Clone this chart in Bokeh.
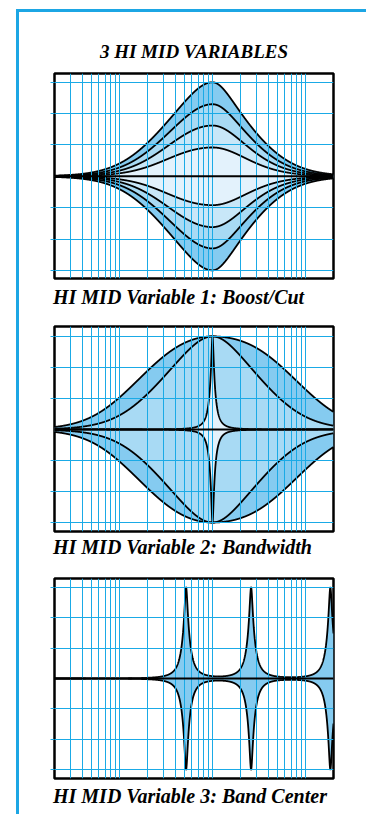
import numpy as np
from bokeh.plotting import figure
from bokeh.models import Range1d, FixedTicker, Span, Title, Div, Spacer
from bokeh.layouts import column, row
from bokeh.embed import file_html
from bokeh.resources import INLINE

# ---------------- data ----------------
freq_min, freq_max = 20, 20000
grid_freqs = [30, 40, 50, 60, 70, 80, 90, 100,
              200, 300, 400, 500, 600, 700, 800, 900, 1000,
              2000, 3000, 4000, 5000, 6000, 7000, 8000, 9000, 10000]
db_ticks = [-15, -10, -5, 5, 10, 15]

title_text = "3 HI MID VARIABLES"
captions = ["HI MID Variable 1: Boost/Cut",
            "HI MID Variable 2: Bandwidth",
            "HI MID Variable 3: Band Center"]

# Panel 1: boost / cut (same centre, same width, four gains)
boost_center = 1000
boost_gains = [15.0, 11.5, 8.1, 4.6]
boost_q_low = 0.30
boost_q_high = 0.42

# Panel 2: bandwidth (same centre, same gain, three widths)
bw_center = 1000
bw_gain = 15.0
bw_q_low = [0.15, 0.28, 9.0]
bw_q_high = [0.12, 0.30, 9.0]

# Panel 3: band centre (three narrow bands)
bc_centers = [520, 2600, 18500]
bc_gain = 15.0
bc_q = 6.5

# ---------------- styles ----------------
GRID = "#1AAAE6"
BORDER = "#1CA6E4"
FILLS = ["#85CBF0", "#A8DAF4", "#C8E7F8", "#E3F2FC"]
FONT = "Liberation Serif"
FIG_W = 347

freqs = np.logspace(np.log10(freq_min), np.log10(freq_max), 4001)
freqs = np.unique(np.concatenate([freqs, [boost_center, bw_center], bc_centers]))
zeros = np.zeros_like(freqs)


def peak_db(f, fc, gain, q_lo, q_hi):
    t = np.log(f / fc)
    q = np.where(t < 0, q_lo, q_hi)
    s = 4.0 * np.sinh(t) ** 2
    a2 = 10 ** (gain / 20.0)
    return 10 * np.log10((s + a2 / q ** 2) / (s + 1.0 / (a2 * q ** 2)))


def make_panel(height, top, frame_h, y0, y1):
    p = figure(width=FIG_W, height=height, x_axis_type="log",
               x_range=Range1d(freq_min, freq_max), y_range=Range1d(y0, y1),
               output_backend="svg", toolbar_location=None, title_location=None,
               min_border_left=35, min_border_right=33,
               min_border_top=top, min_border_bottom=height - top - frame_h)
    p.background_fill_color = "white"
    p.border_fill_color = "white"
    p.outline_line_color = "black"
    p.outline_line_width = 2.5
    p.outline_line_alpha = 1.0
    p.xaxis.visible = False
    ax = p.yaxis[0]
    ax.ticker = FixedTicker(ticks=db_ticks)
    ax.major_tick_out = 4
    ax.major_tick_in = 0
    ax.minor_tick_out = 0
    ax.minor_tick_in = 0
    ax.axis_line_color = None
    ax.major_tick_line_color = GRID
    ax.major_label_text_font_size = "1px"
    ax.major_label_text_color = None
    ax.major_label_standoff = 0
    p.xgrid.ticker = FixedTicker(ticks=grid_freqs)
    p.ygrid.ticker = FixedTicker(ticks=db_ticks)
    p.grid.grid_line_color = GRID
    p.grid.grid_line_width = 1
    p.grid.level = "glyph"
    return p


def add_zero(p):
    p.add_layout(Span(location=0, dimension="width", line_color="black", line_width=2))


def add_caption(p, text, standoff):
    p.add_layout(Title(text=text, align="left", offset=-1.5, vertical_align="top",
                       standoff=standoff, text_font=FONT, text_font_style="bold italic",
                       text_font_size="20px", text_color="black"), "below")


# ---------- Panel 1 ----------
p1 = make_panel(306, 61, 205, -16.3, 16.4)
curves1 = [peak_db(freqs, boost_center, g, boost_q_low, boost_q_high) for g in boost_gains]
for sign in (1, -1):
    for c, col in zip(curves1, FILLS):
        r = p1.varea(x=freqs, y1=zeros, y2=sign * c, fill_color=col, fill_alpha=1)
        r.level = "underlay"
for sign in (1, -1):
    for c in curves1:
        p1.line(freqs, sign * c, line_color="black", line_width=1.8)
add_zero(p1)
p1.add_layout(Title(text=title_text, align="center", vertical_align="bottom", standoff=24,
                    text_font=FONT, text_font_style="bold italic", text_font_size="19px",
                    text_color="black"), "above")
add_caption(p1, captions[0], 14)

# ---------- Panel 2 ----------
p2 = make_panel(253, 8, 205, -16.45, 16.6)
curves2 = [peak_db(freqs, bw_center, bw_gain, ql, qh) for ql, qh in zip(bw_q_low, bw_q_high)]
fills2 = [FILLS[0], FILLS[1], FILLS[3]]
for sign in (1, -1):
    for c, col in zip(curves2, fills2):
        r = p2.varea(x=freqs, y1=zeros, y2=sign * c, fill_color=col, fill_alpha=1)
        r.level = "underlay"
for sign in (1, -1):
    for c in curves2:
        p2.line(freqs, sign * c, line_color="black", line_width=1.8)
add_zero(p2)
add_caption(p2, captions[1], 9)

# ---------- Panel 3 ----------
p3 = make_panel(243, 7, 200, -16.5, 16.5)
curve3 = sum(peak_db(freqs, fc, bc_gain, bc_q, bc_q) for fc in bc_centers)
for sign in (1, -1):
    r = p3.varea(x=freqs, y1=zeros, y2=sign * curve3, fill_color=FILLS[0], fill_alpha=1)
    r.level = "underlay"
for sign in (1, -1):
    p3.line(freqs, sign * curve3, line_color="black", line_width=1.8)
add_zero(p3)
add_caption(p3, captions[2], 12)

# ---------- page frame (blue border, left and top edges) ----------
top_bar = Div(text="", width=350, height=3, margin=(0, 0, 0, 0),
              styles={"background-color": BORDER})
left_bar = Div(text="", width=3, height=802, margin=(0, 0, 0, 0),
               styles={"background-color": BORDER})

layout = column(
    Spacer(width=366, height=9, margin=(0, 0, 0, 0)),
    row(Spacer(width=16, height=3, margin=(0, 0, 0, 0)), top_bar, spacing=0),
    row(Spacer(width=16, height=802, margin=(0, 0, 0, 0)), left_bar,
        column(p1, p2, p3, spacing=0), spacing=0),
    spacing=0,
)
open("out.html", "w").write(file_html(layout, INLINE))
